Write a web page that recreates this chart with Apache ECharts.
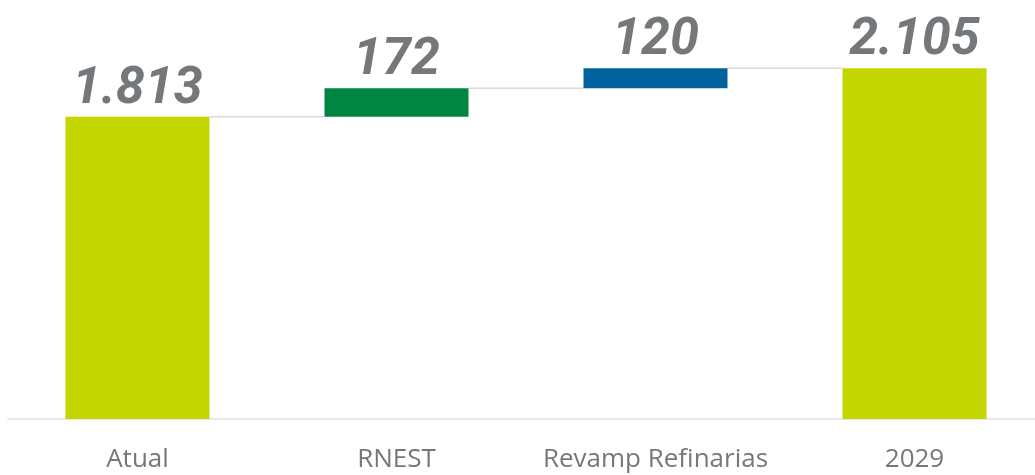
<!DOCTYPE html>
<html>
<head>
<meta charset="utf-8">
<script src="https://cdn.jsdelivr.net/npm/echarts@6/dist/echarts.min.js"></script>
<style>
  html, body { margin: 0; padding: 0; background: #fff; }
  #chart { width: 1035px; height: 475px; }
</style>
</head>
<body>
<div id="chart"></div>
<script>
// categorias e valores (mil bpd)
var categories = ["Atual", "RNEST", "Revamp Refinarias", "2029"];
var values = [1813, 172, 120, 2105];
var isTotal = [true, false, false, true];
var barColors = ["#c4d600", "#008542", "#00629b", "#c4d600"];

// base invisivel do waterfall
var base = [];
var tops = [];
var acc = 0;
for (var i = 0; i < values.length; i++) {
  if (isTotal[i]) {
    base.push(0);
    acc = values[i];
  } else {
    base.push(acc);
    acc += values[i];
  }
  tops.push(acc);
}

var BAR_RATIO = 0.556;

function fmt(v) {
  return String(v).replace(/\B(?=(\d{3})+(?!\d))/g, ".");
}

var chart = echarts.init(document.getElementById("chart"));
chart.setOption({
  animation: false,
  grid: { left: 8, width: 1036, top: 19, bottom: 56, outerBoundsMode: "none", containLabel: false },
  xAxis: {
    type: "category",
    data: categories,
    axisLine: { lineStyle: { color: "#e8e8e8", width: 2 } },
    axisTick: { show: false },
    axisLabel: {
      interval: 0,
      color: "#75787b",
      fontSize: 26,
      fontFamily: "Open Sans",
      margin: 28
    }
  },
  yAxis: {
    type: "value",
    min: 0,
    max: 2400,
    show: false,
    splitLine: { show: false }
  },
  series: [
    {
      // linhas de ligacao entre as barras
      type: "custom",
      z: 1,
      silent: true,
      data: tops.slice(0, tops.length - 1).map(function (v, i) { return [i, v]; }),
      renderItem: function (params, api) {
        var i = api.value(0);
        var p1 = api.coord([i, api.value(1)]);
        var p2 = api.coord([i + 1, api.value(1)]);
        var half = api.size([1, 0])[0] * BAR_RATIO / 2;
        return {
          type: "line",
          shape: { x1: p1[0] + half, y1: p1[1], x2: p2[0] - half, y2: p2[1] },
          style: { stroke: "#d9d9d9", lineWidth: 1.5 }
        };
      }
    },
    {
      type: "bar",
      stack: "wf",
      z: 2,
      barWidth: (BAR_RATIO * 100) + "%",
      itemStyle: { color: "transparent" },
      silent: true,
      data: base
    },
    {
      type: "bar",
      stack: "wf",
      z: 2,
      barWidth: (BAR_RATIO * 100) + "%",
      data: values.map(function (v, i) {
        return { value: v, itemStyle: { color: barColors[i] } };
      }),
      label: {
        show: true,
        position: "top",
        distance: 1,
        color: "#75787b",
        fontSize: 52,
        fontWeight: "bold",
        fontStyle: "italic",
        fontFamily: "Roboto",
        formatter: function (p) { return fmt(p.value); }
      }
    }
  ]
});
</script>
</body>
</html>
